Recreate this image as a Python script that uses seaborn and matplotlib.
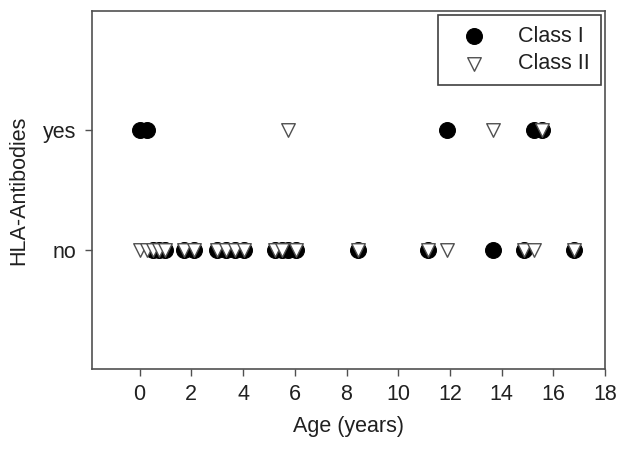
import pandas as pd
import seaborn as sns
import matplotlib.pyplot as plt

# age of each patient and whether class I / class II antibodies were found (1 = yes)
age = [0.0, 0.27, 0.5, 0.75, 1.0, 1.7, 2.1, 3.0, 3.35, 3.7, 4.05,
       5.25, 5.5, 5.75, 6.05, 8.45, 11.15, 11.9, 13.65, 14.85, 15.25, 15.55, 16.8]
class_i = [1, 1, 0, 0, 0, 0, 0, 0, 0, 0, 0,
           0, 0, 0, 0, 0, 0, 1, 0, 0, 1, 1, 0]
class_ii = [0, 0, 0, 0, 0, 0, 0, 0, 0, 0, 0,
            0, 0, 1, 0, 0, 0, 0, 1, 0, 0, 1, 0]
y_labels = ["no", "yes"]

df = pd.DataFrame({"age": age, "class_i": class_i, "class_ii": class_ii})

sns.set_style("ticks")
plt.rcParams["font.family"] = ["Liberation Sans", "DejaVu Sans"]

fig = plt.figure(figsize=(6.2, 4.49), dpi=100)
ax = fig.add_axes([0.148, 0.178, 0.828, 0.798])

sns.scatterplot(data=df, x="age", y="class_i", marker="o", s=130,
                color="black", edgecolor="black", linewidth=0.8,
                label="Class I", ax=ax, zorder=3)
sns.scatterplot(data=df, x="age", y="class_ii", marker="v", s=95,
                color="white", edgecolor="#505050", linewidth=1.0,
                label="Class II", ax=ax, zorder=4)

fs = 15.5
ax.set_xlim(-1.85, 18)
ax.set_ylim(-1, 2)
ax.set_xticks(range(0, 19, 2))
ax.set_yticks([0, 1])
ax.set_yticklabels(y_labels)
ax.set_xlabel("Age (years)", fontsize=fs, labelpad=8, color="#202020")
ax.set_ylabel("HLA-Antibodies", fontsize=fs, labelpad=10, color="#202020")
ax.tick_params(labelsize=fs, color="#505050", labelcolor="#202020",
               length=5, width=1, pad=6)
for sp in ax.spines.values():
    sp.set_color("#505050")
    sp.set_linewidth(1.2)

leg = ax.legend(loc="upper right", fontsize=fs, frameon=True, fancybox=False,
                borderpad=0.5, handletextpad=0.85, borderaxespad=0.2,
                labelspacing=0.3, handlelength=2.4)
leg.get_frame().set_edgecolor("#404040")
leg.get_frame().set_linewidth(1.2)
leg.get_frame().set_alpha(1)
for t in leg.get_texts():
    t.set_color("#202020")

fig.savefig("out.png")
